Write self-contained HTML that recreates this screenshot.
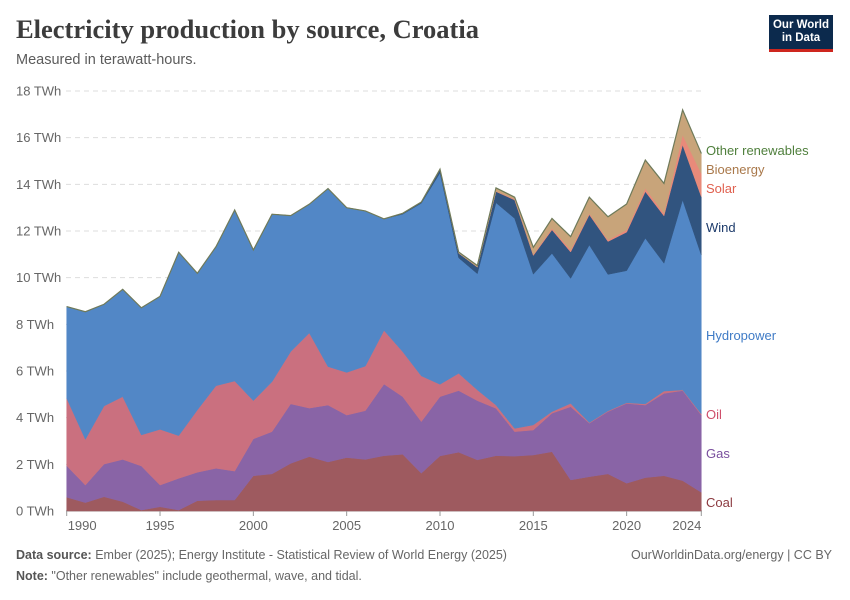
<!DOCTYPE html>
<html><head><meta charset="utf-8">
<style>
body{margin:0;background:#fff;font-family:"Liberation Sans",sans-serif;}
#wrap{position:relative;width:850px;height:600px;overflow:hidden;}
.t{position:absolute;white-space:nowrap;}
</style></head><body>
<div id="wrap">
<div class="t" style="left:16px;top:14px;font-family:'Liberation Serif',serif;font-size:26.5px;font-weight:bold;color:#3c3c3c;">Electricity production by source, Croatia</div>
<div class="t" style="left:16px;top:52px;font-size:14.5px;color:#5b5b5b;">Measured in terawatt-hours.</div>
<div style="position:absolute;left:769px;top:15px;width:64px;height:37px;background:#0c2a4d;border-bottom:3px solid #ce261e;color:#fff;font-size:11.5px;font-weight:bold;text-align:center;line-height:13px;padding-top:4px;box-sizing:border-box;">Our World<br>in Data</div>
<svg id="chart" width="850" height="600" style="position:absolute;left:0;top:0;"></svg>
<div class="t" style="left:16px;top:548px;font-size:12.5px;color:#666;"><b style="color:#555;font-weight:bold">Data source:</b> Ember (2025); Energy Institute - Statistical Review of World Energy (2025)</div>
<div class="t" style="right:18px;top:548px;font-size:12.5px;color:#666;">OurWorldinData.org/energy | CC BY</div>
<div class="t" style="left:16px;top:569px;font-size:12.5px;color:#666;"><b style="color:#555">Note:</b> "Other renewables" include geothermal, wave, and tidal.</div>
</div>
<script>
const years=[];for(let y=1990;y<=2024;y++)years.push(y);
const coal=[0.59,0.36,0.61,0.40,0.04,0.18,0.04,0.44,0.47,0.47,1.51,1.59,2.04,2.33,2.10,2.29,2.21,2.37,2.43,1.62,2.36,2.52,2.19,2.37,2.35,2.40,2.54,1.33,1.47,1.59,1.19,1.43,1.51,1.30,0.80];
const gas=[1.35,0.75,1.40,1.81,1.89,0.93,1.36,1.22,1.36,1.24,1.58,1.81,2.55,2.08,2.44,1.82,2.09,3.07,2.47,2.21,2.54,2.64,2.54,2.03,1.05,1.07,1.65,3.14,2.29,2.67,3.42,3.11,3.53,3.86,3.31];
const oil=[2.89,1.96,2.49,2.69,1.33,2.39,1.83,2.67,3.54,3.86,1.64,2.14,2.24,3.22,1.65,1.83,1.91,2.30,1.93,1.96,0.53,0.74,0.46,0.14,0.14,0.22,0.07,0.14,0.03,0.03,0.03,0.05,0.10,0.03,0.05];
const hydro=[3.93,5.47,4.36,4.60,5.45,5.70,7.86,5.86,5.96,7.33,6.46,7.18,5.83,5.52,7.63,7.06,6.65,4.78,5.89,7.40,9.06,4.95,4.98,8.67,9.00,6.46,6.78,5.36,7.61,5.85,5.66,7.10,5.48,8.14,6.81];
const wind=[0,0,0,0,0,0,0,0,0,0,0,0,0,0,0,0,0,0,0.04,0.05,0.14,0.20,0.28,0.48,0.79,0.80,1.01,1.13,1.30,1.41,1.65,2.00,2.03,2.36,2.50];
const solar=[0,0,0,0,0,0,0,0,0,0,0,0,0,0,0,0,0,0,0,0,0,0,0.01,0.02,0.04,0.05,0.07,0.09,0.06,0.07,0.10,0.14,0.11,0.43,1.00];
const bio=[0,0,0,0,0,0,0,0,0,0,0,0,0,0,0,0,0,0,0,0,0.02,0.05,0.05,0.12,0.06,0.28,0.40,0.55,0.67,0.97,1.09,1.19,1.26,1.05,0.84];
const other=[0,0,0,0,0,0,0,0,0,0,0,0,0,0,0,0,0,0,0,0,0,0,0.01,0.02,0.02,0.02,0.02,0.02,0.02,0.02,0.02,0.02,0.02,0.02,0.02];
const yTicks=[0,2,4,6,8,10,12,14,16,18];
const xTicks=[1990,1995,2000,2005,2010,2015,2020,2024];
const seriesNames=["Coal","Gas","Oil","Hydropower","Wind","Solar","Bioenergy","Other renewables"];

const NS="http://www.w3.org/2000/svg";
const svg=document.getElementById('chart');
const X=y=>66.7+(y-1990)*(701.3-66.7)/34;
const Y=v=>511-v*(420/18);
function el(t,a){const e=document.createElementNS(NS,t);for(const k in a)e.setAttribute(k,a[k]);svg.appendChild(e);return e;}
yTicks.forEach(v=>{
  const l=el('line',{x1:66,x2:702,y1:Y(v),y2:Y(v),stroke:v===0?'#999':'#ddd','stroke-dasharray':v===0?'':'5,4'});
  
  
  const t=el('text',{x:16,y:Y(v)+4.5,'font-size':13,fill:'#666'});t.textContent=v+' TWh';
  
  
});
const data=[coal,gas,oil,hydro,wind,solar,bio,other];
const fills=['#9e5a5f','#8964a6','#ca707f','#5287c6','#31547f','#e88a7a','#c8a47a','#6f9a5a'];
let base=years.map(()=>0);
data.forEach((s,i)=>{
  const top=base.map((b,j)=>b+s[j]);
  let d='M'+years.map((y,j)=>X(y)+','+Y(top[j])).join('L');
  for(let j=years.length-1;j>=0;j--)d+='L'+X(years[j])+','+Y(base[j]);
  const p=el('path',{d:d+'Z',fill:fills[i],stroke:fills[i],'stroke-width':0.5});
  
  
  base=top;
});
const outline=el('path',{d:'M'+years.map((y,j)=>X(y)+','+Y(base[j])).join('L'),fill:'none',stroke:'#6f7a5a','stroke-width':1.2});


xTicks.forEach(y=>{
  const l=el('line',{x1:X(y),x2:X(y),y1:511,y2:516,stroke:'#999'});
  
  
  const anchor=y===1990?'start':(y===2024?'end':'middle');
  const t=el('text',{x:y===1990?X(y)+1:X(y),y:530,'font-size':13,fill:'#666','text-anchor':anchor});
  t.textContent=y;
  
  
});
const labels=[["Other renewables",155,'#4f7f3c'],["Bioenergy",174,'#a9784a'],["Solar",193,'#e0604f'],["Wind",232,'#1d3b6b'],["Hydropower",340,'#3f7bc6'],["Oil",419,'#cf4f6b'],["Gas",458,'#7a4f9e'],["Coal",507,'#8c3a40']];
labels.forEach(l=>{
  const t=el('text',{x:706,y:l[1],'font-size':13,fill:l[2]});t.textContent=l[0];
  
  
});
</script>
</body></html>
